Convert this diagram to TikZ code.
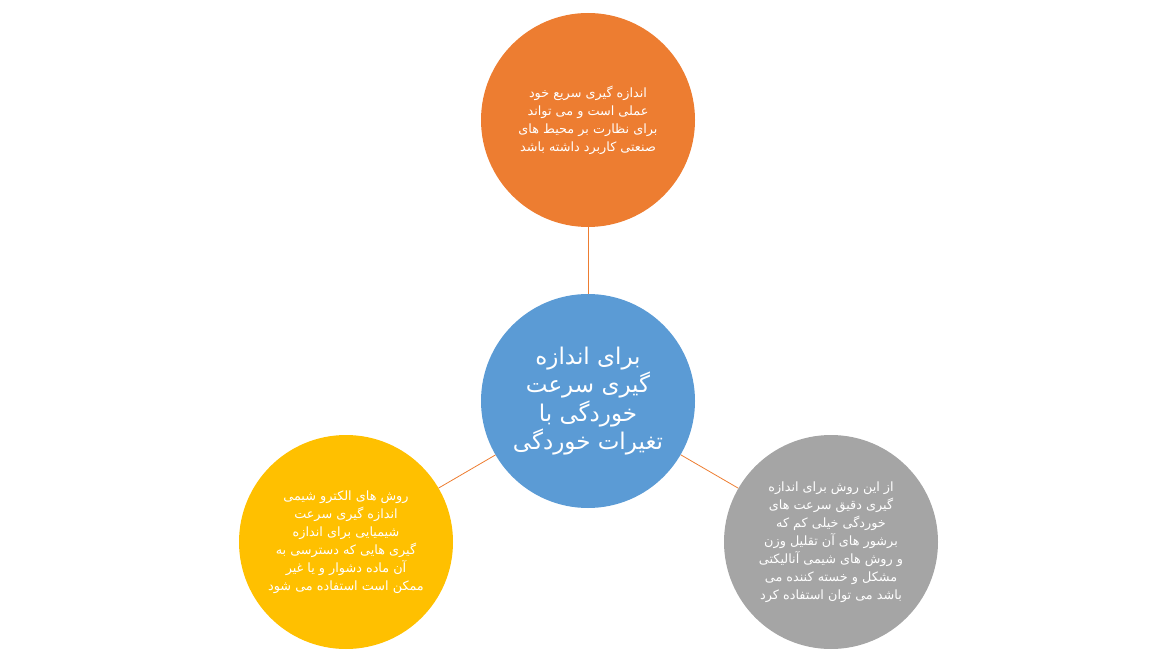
\documentclass[tikz,border=0pt]{standalone}
\usepackage{fontspec}
\TeXXeTstate=1
\newfontfamily\arabicfont[Script=Arabic]{DejaVu Sans}
\newcommand{\rl}[1]{\beginR #1\endR}
\definecolor{accorange}{HTML}{ED7D31}
\definecolor{accblue}{HTML}{5B9BD5}
\definecolor{accyellow}{HTML}{FFC000}
\definecolor{accgray}{HTML}{A5A5A5}
\tikzset{
  bubble/.style={circle, minimum size=214pt, inner sep=0pt, text=white, align=center,
    font=\arabicfont\fontsize{12.8}{18}\selectfont},
  link/.style={draw=accorange, line width=0.8pt}
}

\begin{document}
\begin{tikzpicture}[x=1pt,y=-1pt]
    \useasboundingbox (0,0) rectangle (1154,652);

    \node[bubble, fill=accblue, font=\arabicfont\fontsize{23}{28.5}\selectfont] (center) at (588,401)
        {\rl{برای اندازه}\\\rl{گیری سرعت}\\\rl{خوردگی با}\\\rl{تغیرات خوردگی}};
    \node[bubble, fill=accorange] (top) at (588,120)
        {\rl{اندازه گیری سریع خود}\\\rl{عملی است و می تواند}\\\rl{برای نظارت بر محیط های}\\\rl{صنعتی کاربرد داشته باشد}};
    \node[bubble, fill=accyellow] (left) at (346,542)
        {\rl{روش های الکترو شیمی}\\\rl{اندازه گیری سرعت}\\\rl{شیمیایی  برای اندازه}\\\rl{گیری هایی که دسترسی به}\\\rl{آن ماده دشوار و یا غیر}\\\rl{ممکن است استفاده می شود}};
    \node[bubble, fill=accgray] (right) at (831,542)
        {\rl{از این روش برای اندازه}\\\rl{گیری دقیق سرعت های}\\\rl{خوردگی خیلی کم که}\\\rl{برشور های آن تقلیل وزن}\\\rl{و روش های شیمی آنالیکتی}\\\rl{مشکل و خسته کننده می}\\\rl{باشد می توان استفاده کرد}};

    \draw[link] (center) -- (top);
    \draw[link] (center) -- (left);
    \draw[link] (center) -- (right);
\end{tikzpicture}
\end{document}
